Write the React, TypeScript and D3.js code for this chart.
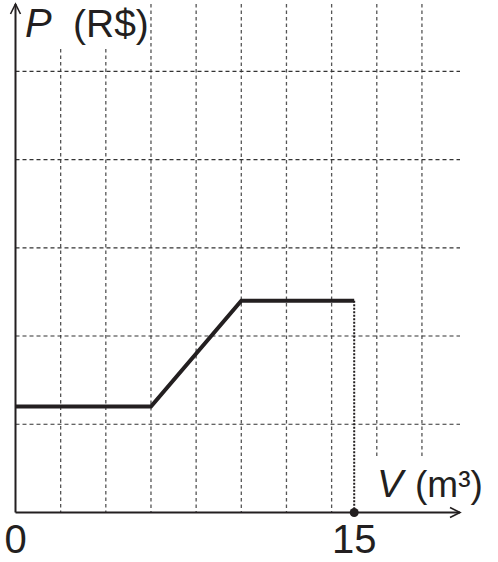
import React from "react";
import * as d3 from "d3";

// piecewise price vs volume
const volumes = [0, 6, 10, 15];
const prices = [1.2, 1.2, 2.4, 2.4];
const xGridTicks = [2, 4, 6, 8, 10, 12, 14, 16, 18];
const yGridTicks = [1, 2, 3, 4, 5];
const xTickLabels = ["0", "15"];

const W = 498;
const H = 562;
const x0 = 15.5;
const y0 = 512.5;

const x = d3.scaleLinear().domain([0, 20]).range([x0, x0 + 20 * 22.58]);
const y = d3.scaleLinear().domain([0, 5]).range([y0, 71.3]);

const font = "'Liberation Sans', Arial, sans-serif";
const ink = "#231f20";

const App: React.FC = () => {
  const pts = volumes.map((v, i) => [v, prices[i]] as [number, number]);
  const line = d3
    .line<[number, number]>()
    .x((d) => x(d[0]))
    .y((d) => y(d[1]));
  const last = pts[pts.length - 1];
  const xEnd = 460;

  return (
    <svg
      width={W}
      height={H}
      style={{ position: "absolute", left: 0, top: 0, background: "#fff" }}
    >
      {/* vertical grid */}
      {xGridTicks.map((t) => (
        <line
          key={"v" + t}
          x1={x(t)}
          x2={x(t)}
          y1={t <= 4 ? 49 : 4}
          y2={t >= 16 ? 456 : y0}
          stroke="#555"
          strokeWidth={1.3}
          strokeDasharray="3.5 3"
        />
      ))}
      {/* horizontal grid */}
      {yGridTicks.map((t) => (
        <line
          key={"h" + t}
          x1={x0}
          x2={xEnd}
          y1={y(t)}
          y2={y(t)}
          stroke="#333"
          strokeWidth={1.2}
          strokeDasharray="4 3"
        />
      ))}
      {/* drop line to 15 */}
      <line
        x1={x(last[0])}
        x2={x(last[0])}
        y1={y(last[1])}
        y2={y0}
        stroke={ink}
        strokeWidth={2}
        strokeDasharray="2 1.5"
      />
      {/* axes */}
      <line x1={x0} x2={x0} y1={y0} y2={4} stroke={ink} strokeWidth={2} />
      <polyline
        points={`${x0 - 5},${14} ${x0},${4} ${x0 + 5},${14}`}
        fill="none"
        stroke={ink}
        strokeWidth={1.6}
      />
      <line x1={x0} x2={xEnd} y1={y0} y2={y0} stroke={ink} strokeWidth={2} />
      <polyline
        points={`${xEnd - 10},${y0 - 5} ${xEnd},${y0} ${xEnd - 10},${y0 + 5}`}
        fill="none"
        stroke={ink}
        strokeWidth={1.6}
      />
      {/* data */}
      <path
        d={line(pts) || ""}
        fill="none"
        stroke={ink}
        strokeWidth={4}
        strokeLinejoin="miter"
      />
      <circle cx={x(last[0])} cy={y0} r={4.5} fill={ink} />
      {/* labels */}
      <g fontFamily={font} fill={ink}>
        <text x={25} y={37} fontSize={40} fontStyle="italic">P</text>
        <text x={73} y={37} fontSize={39}>(R$)</text>
        <text x={377} y={497} fontSize={39} fontStyle="italic">V</text>
        <text x={415} y={497} fontSize={37}>(m³)</text>
        <text x={x(0)} y={553} fontSize={40} textAnchor="middle">
          {xTickLabels[0]}
        </text>
        <text x={x(15)} y={553} fontSize={40} textAnchor="middle">
          {xTickLabels[1]}
        </text>
      </g>
    </svg>
  );
};

export default App;
